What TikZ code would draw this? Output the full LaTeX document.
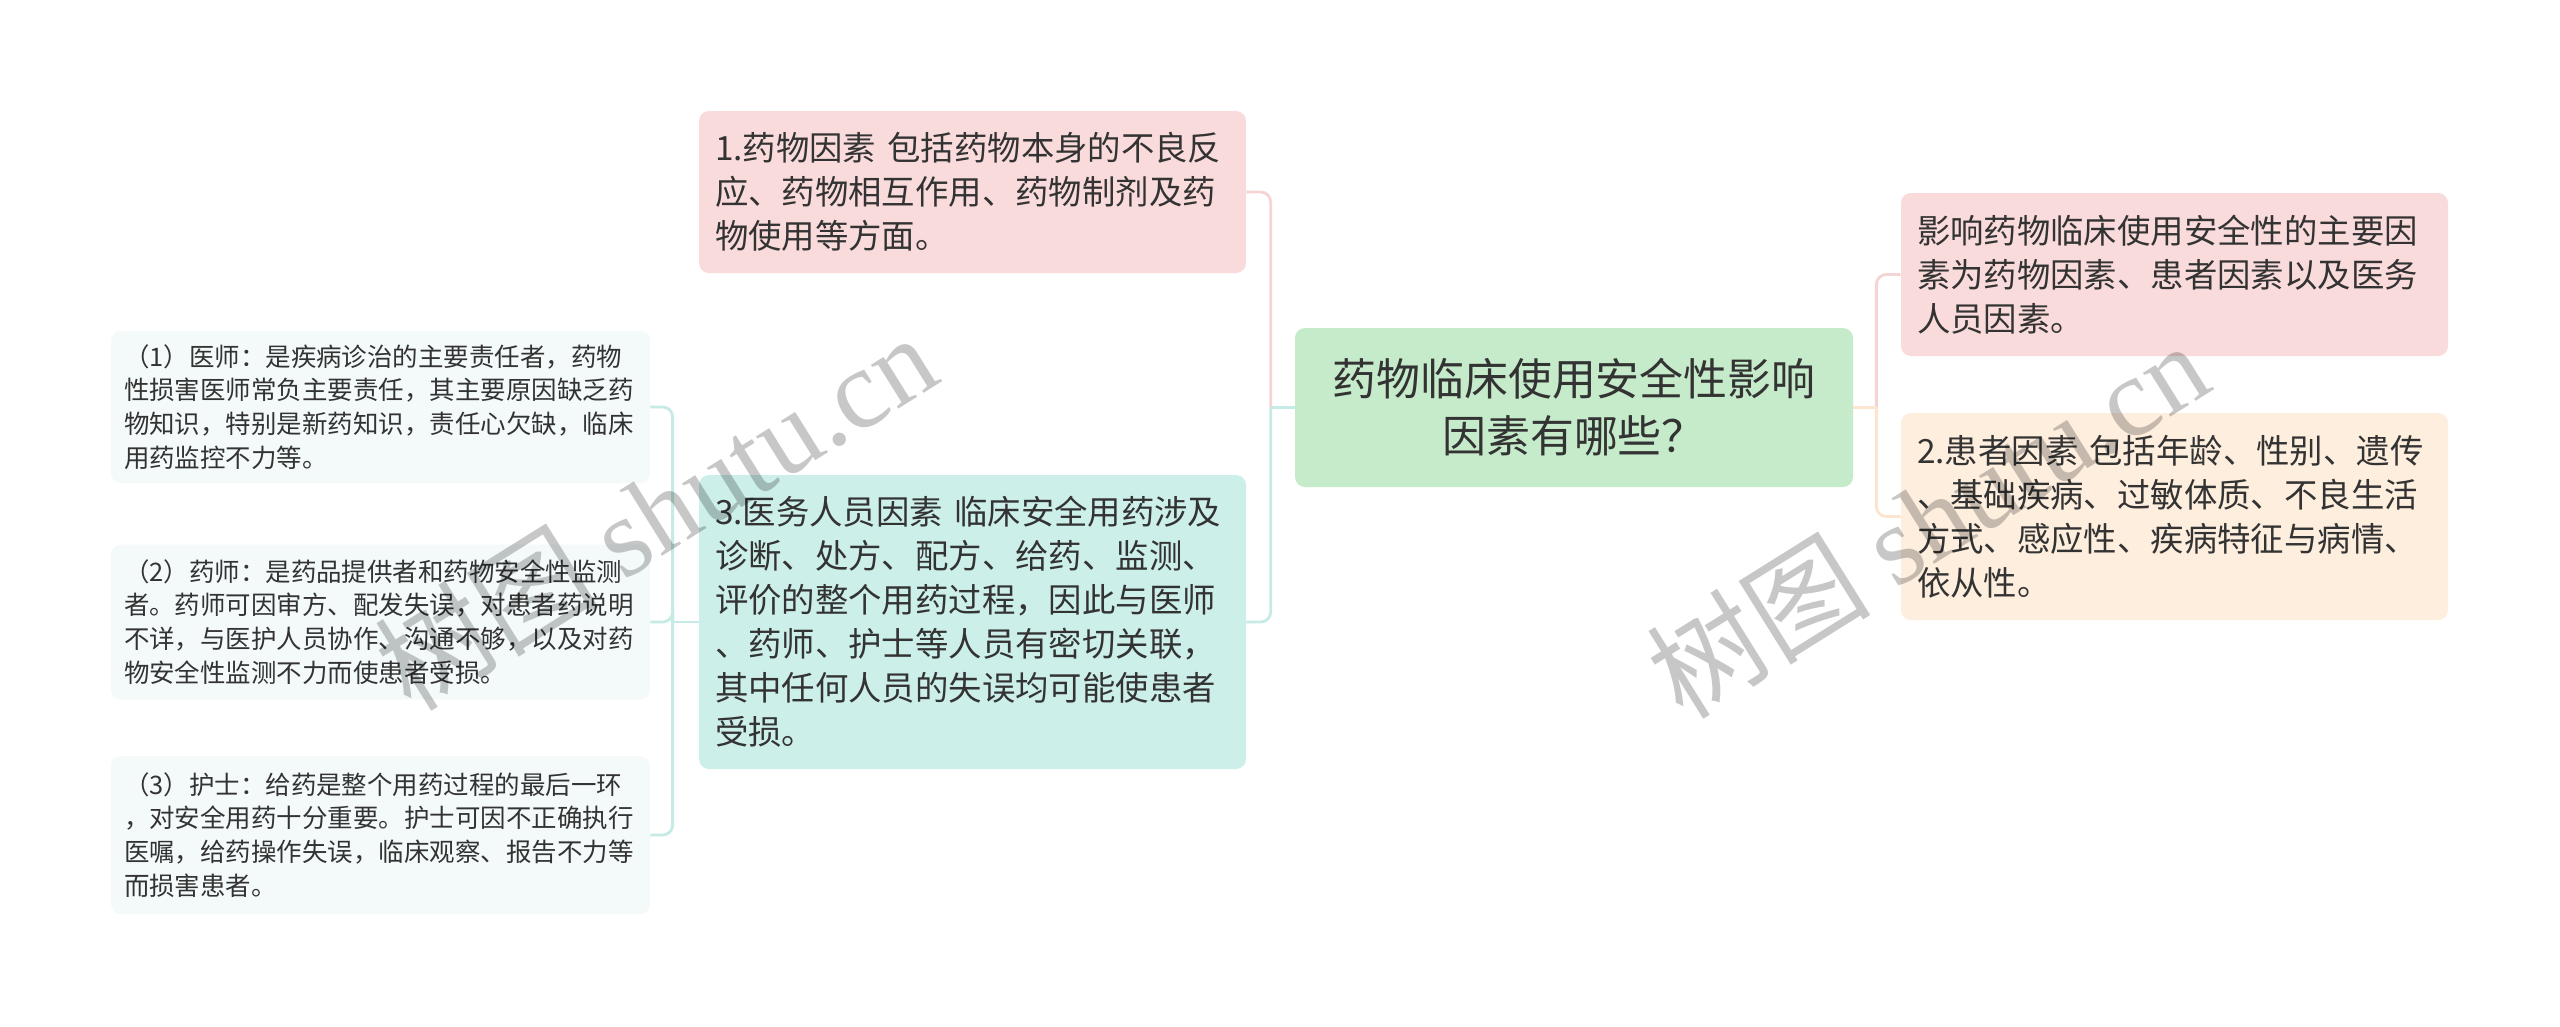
\documentclass[tikz,border=0pt]{standalone}
\usepackage{fontspec}
\newfontfamily\cjk{Noto Sans CJK SC}
\newfontfamily\wmfont{Liberation Serif}
\usetikzlibrary{calc}
\definecolor{txtgray}{HTML}{333333}
\definecolor{rootfill}{HTML}{C6EBCB}
\definecolor{pinkfill}{HTML}{FADBDB}
\definecolor{tealfill}{HTML}{CDEFEA}
\definecolor{peachfill}{HTML}{FDEEDE}
\definecolor{leaffill}{HTML}{F4FAFA}
\definecolor{pinkline}{HTML}{F6D4D4}
\definecolor{tealline}{HTML}{C6EAE5}
\definecolor{peachline}{HTML}{FCE5CF}
\tikzset{
	box/.style={rounded corners=0.2cm, text=txtgray, inner xsep=0.32cm, inner ysep=0pt, align=left},
	rootbox/.style={box, fill=rootfill, align=center, text width=10.5cm, minimum width=11.16cm, minimum height=3.18cm, font=\cjk\fontsize{25}{32.5}\selectfont},
	catbox/.style={box, text width=10.3cm, minimum width=10.94cm, font=\cjk\fontsize{19}{25}\selectfont},
	leafbox/.style={box, fill=leaffill, inner xsep=0.26cm, text width=10.26cm, minimum width=10.78cm, font=\cjk\fontsize{14.5}{19.2}\selectfont},
	link/.style={line width=1.6pt, rounded corners=0.2cm},
	wmark/.style={text=black, text opacity=0.22, font=\fontsize{64}{64}\selectfont, rotate=32}
}
\begin{document}
\begin{tikzpicture}
	\fill[white] (0,0) rectangle (51.2,-20.52);
	\useasboundingbox (0,0) rectangle (51.2,-20.52);
	\node[rootbox] (root) at (31.48,-8.15) {药物临床使用安全性影响\\因素有哪些？};
	\node[catbox, fill=pinkfill, minimum height=3.24cm] (drug) at (19.45,-3.84) {1.药物因素 包括药物本身的不良反\\应、药物相互作用、药物制剂及药\\物使用等方面。};
	\node[catbox, fill=tealfill, minimum height=5.88cm] (staff) at (19.45,-12.44) {3.医务人员因素 临床安全用药涉及\\诊断、处方、配方、给药、监测、\\评价的整个用药过程，因此与医师\\、药师、护士等人员有密切关联，\\其中任何人员的失误均可能使患者\\受损。};
	\node[catbox, fill=pinkfill, minimum height=3.26cm] (main) at (43.49,-5.49) {影响药物临床使用安全性的主要因\\素为药物因素、患者因素以及医务\\人员因素。};
	\node[catbox, fill=peachfill, minimum height=4.14cm] (patient) at (43.49,-10.33) {2.患者因素 包括年龄、性别、遗传\\、基础疾病、过敏体质、不良生活\\方式、感应性、疾病特征与病情、\\依从性。};
	% leaves of 3.
	\node[leafbox, minimum height=3.04cm] (doctor) at (7.61,-8.14) {（1）医师：是疾病诊治的主要责任者，药物\\性损害医师常负主要责任，其主要原因缺乏药\\物知识，特别是新药知识，责任心欠缺，临床\\用药监控不力等。};
	\node[leafbox, minimum height=3.10cm] (pharm) at (7.61,-12.44) {（2）药师：是药品提供者和药物安全性监测\\者。药师可因审方、配发失误，对患者药说明\\不详，与医护人员协作、沟通不够，以及对药\\物安全性监测不力而使患者受损。};
	\node[leafbox, minimum height=3.16cm] (nurse) at (7.61,-16.70) {（3）护士：给药是整个用药过程的最后一环\\，对安全用药十分重要。护士可因不正确执行\\医嘱，给药操作失误，临床观察、报告不力等\\而损害患者。};
	\coordinate (lt) at ($(root.west)+(-0.48,0)$);
	\coordinate (rt) at ($(root.east)+(0.46,0)$);
	\coordinate (st) at ($(staff.west)+(-0.52,0)$);
	\draw[link, pinkline] (drug.east) -| (lt);
	\draw[link, tealline] (staff.east) -| (lt);
	\draw[link, tealline] (root.west) -- (lt);
	\draw[link, pinkline] (main.west) -| (rt);
	\draw[link, peachline] (patient.west) -| (rt);
	\draw[link, peachline] (root.east) -- (rt);
	\foreach \leaf in {doctor,pharm,nurse}
		\draw[link, tealline] (\leaf.east) -| (st);
	\draw[link, tealline] (staff.west) -- (st);
	\node[wmark] (wm1) at (13.1,-10.22) {\cjk 树图\ \wmfont shutu.cn};
	\node[wmark] (wm2) at (38.54,-10.38) {\cjk 树图\ \wmfont shutu.cn};
\end{tikzpicture}
\end{document}
